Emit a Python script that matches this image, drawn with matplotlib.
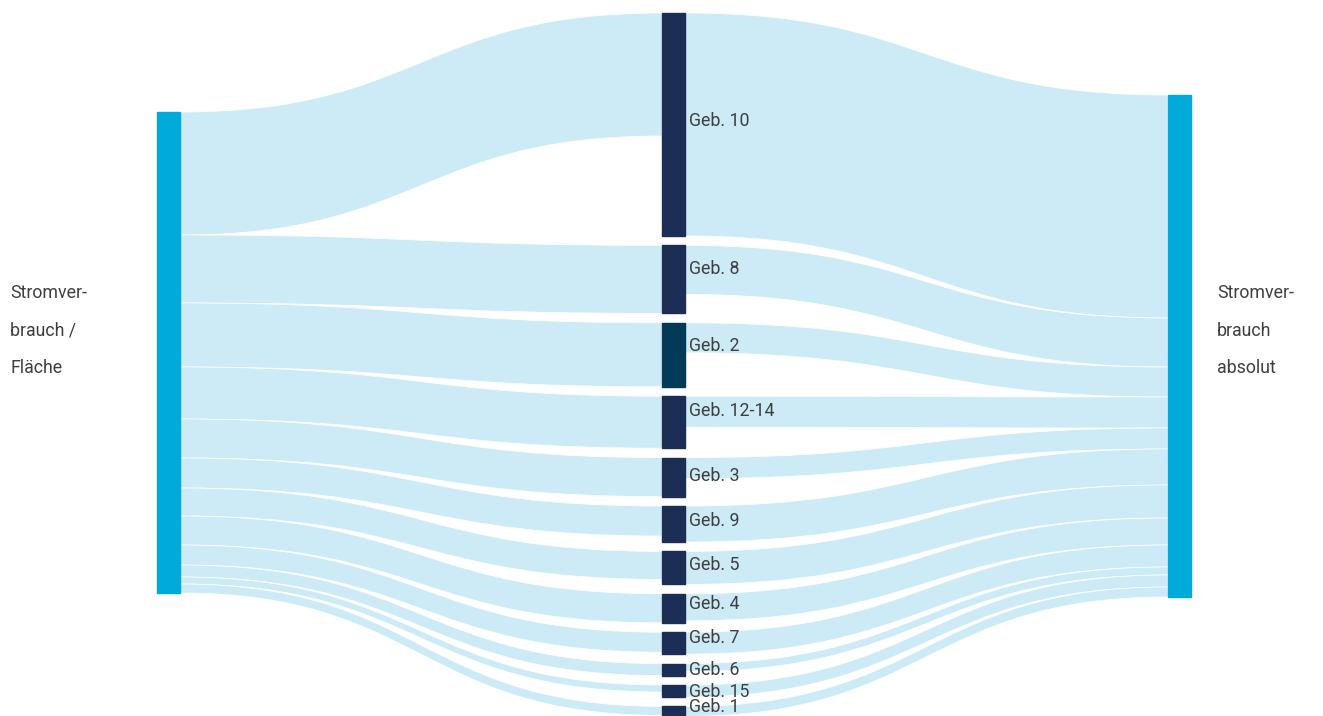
import numpy as np
import matplotlib.pyplot as plt
from matplotlib.path import Path
from matplotlib.patches import PathPatch, Rectangle

# ---------------- data ----------------
buildings = ['Geb. 10', 'Geb. 8', 'Geb. 2', 'Geb. 12-14', 'Geb. 3', 'Geb. 9',
             'Geb. 5', 'Geb. 4', 'Geb. 7', 'Geb. 6', 'Geb. 15', 'Geb. 1']
per_area = [123, 68, 64, 52, 39, 30, 28, 29, 20, 12, 7, 9]      # Stromverbrauch / Fläche
absolute = [223, 49, 30, 31, 21, 36, 33, 27, 22, 8, 12, 10]     # Stromverbrauch absolut
left_label = ['Stromver-', 'brauch /', 'Fläche']
right_label = ['Stromver-', 'brauch', 'absolut']

# ---------------- layout ----------------
W, H = 1323, 716
node_w = 23
x_left, x_mid, x_right = 157, 662, 1168
top_left, top_mid, top_right = 112, 13, 95
gap = 9.4
label_dy = [108, 24, 23, 15, 18, 15, 14, 10, 6, 6, 7, 1]

c_flow = '#cdebf6'
c_side = '#00abdc'
c_mid = '#1c2e56'
c_mid2 = '#033a57'
c_text = '#3f3f3f'

plt.rcParams['font.family'] = ['Roboto', 'DejaVu Sans']

fig = plt.figure(figsize=(W / 100, H / 100), dpi=100)
ax = fig.add_axes([0, 0, 1, 1])
ax.set_xlim(0, W)
ax.set_ylim(H, 0)
ax.axis('off')


def band(x0, y0a, y0b, x1, y1a, y1b):
    xm = (x0 + x1) / 2
    verts = [(x0, y0a), (xm, y0a), (xm, y1a), (x1, y1a),
             (x1, y1b), (xm, y1b), (xm, y0b), (x0, y0b), (x0, y0a)]
    codes = [Path.MOVETO, Path.CURVE4, Path.CURVE4, Path.CURVE4,
             Path.LINETO, Path.CURVE4, Path.CURVE4, Path.CURVE4, Path.CLOSEPOLY]
    ax.add_patch(PathPatch(Path(verts, codes), facecolor=c_flow,
                           edgecolor='white', lw=0.5, zorder=1))


# middle node positions
mid_h = [max(a, b) for a, b in zip(per_area, absolute)]
mid_top = []
y = top_mid
for h in mid_h:
    mid_top.append(y)
    y += h + gap

# flows left -> middle
yl = top_left
for i, v in enumerate(per_area):
    band(x_left + node_w, yl, yl + v, x_mid, mid_top[i], mid_top[i] + v)
    yl += v

# flows middle -> right
yr = top_right
for i, v in enumerate(absolute):
    band(x_mid + node_w, mid_top[i], mid_top[i] + v, x_right, yr, yr + v)
    yr += v

# nodes
ax.add_patch(Rectangle((x_left, top_left), node_w, sum(per_area), color=c_side, zorder=3))
ax.add_patch(Rectangle((x_right, top_right), node_w, sum(absolute), color=c_side, zorder=3))
for i, name in enumerate(buildings):
    col = c_mid2 if name == 'Geb. 2' else c_mid
    ax.add_patch(Rectangle((x_mid, mid_top[i]), node_w, mid_h[i], color=col, zorder=3))
    ax.text(x_mid + node_w + 4, mid_top[i] + label_dy[i], name, fontsize=12.8,
            color=c_text, va='center', ha='left', zorder=4)

# side labels
for k, (a, b) in enumerate(zip(left_label, right_label)):
    yy = 293 + k * 37.5
    ax.text(10, yy, a, fontsize=12.8, color=c_text, va='center', ha='left')
    ax.text(1217, yy, b, fontsize=12.8, color=c_text, va='center', ha='left')

fig.savefig('out.png', dpi=100, facecolor='white')
